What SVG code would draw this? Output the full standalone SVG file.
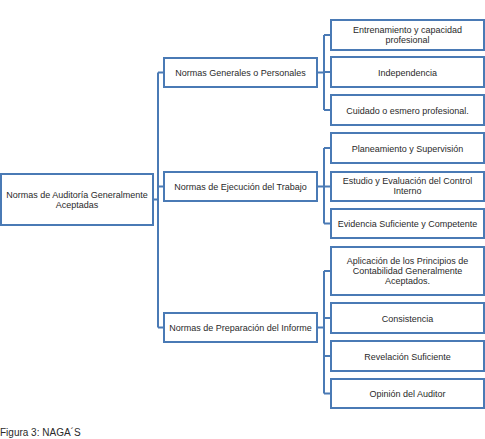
<svg xmlns="http://www.w3.org/2000/svg" width="485" height="439" viewBox="0 0 485 439">
<style>
.box{fill:#ffffff;stroke:#4a7ab5;stroke-width:2}
.ln{fill:none;stroke:#4a7ab5;stroke-width:2}
text{font-family:"Liberation Sans",Arial,sans-serif;font-size:9px;fill:#2a2a2a;text-anchor:middle}
.cap{text-anchor:start;font-size:10px}
</style>
<rect width="485" height="439" fill="#ffffff"/>
<g id="connectors">
<path class="ln" d="M153,199.5H158M158,72.5V327.5M158,72.5H164M158,186.5H164M158,327.5H164"/>
<path class="ln" d="M317,72.5H324M324,35V110M324,35H331M324,72H331M324,110H331"/>
<path class="ln" d="M317,186.5H324M324,148V223.5M324,148H331M324,186.5H331M324,223.5H331"/>
<path class="ln" d="M317,327.5H324M324,271V393.5M324,271H331M324,318H331M324,356H331M324,393.5H331"/>
</g>
<g id="root"><rect class="box" x="1" y="174" width="152" height="51"/><text x="77" y="198">Normas de Auditoría Generalmente</text><text x="77" y="208">Aceptadas</text></g>
<g id="generales"><rect class="box" x="164" y="58" width="153" height="29"/><text x="240.5" y="75.5">Normas Generales o Personales</text></g>
<g id="ejecucion"><rect class="box" x="164" y="172" width="153" height="29"/><text x="240.5" y="189.5">Normas de Ejecución del Trabajo</text></g>
<g id="preparacion"><rect class="box" x="164" y="313" width="153" height="29"/><text x="240.5" y="330.5">Normas de Preparación del Informe</text></g>
<g id="entrenamiento"><rect class="box" x="331" y="20" width="153" height="30"/><text x="407.5" y="33">Entrenamiento y capacidad</text><text x="407.5" y="43">profesional</text></g>
<g id="independencia"><rect class="box" x="331" y="57" width="153" height="30"/><text x="407.5" y="75.5">Independencia</text></g>
<g id="cuidado"><rect class="box" x="331" y="95" width="153" height="30"/><text x="407.5" y="113.5">Cuidado o esmero profesional.</text></g>
<g id="planeamiento"><rect class="box" x="331" y="133" width="153" height="30"/><text x="407.5" y="151.5">Planeamiento y Supervisión</text></g>
<g id="estudio"><rect class="box" x="331" y="172" width="153" height="29"/><text x="407.5" y="184">Estudio y Evaluación del Control</text><text x="407.5" y="194">Interno</text></g>
<g id="evidencia"><rect class="box" x="331" y="209" width="153" height="29"/><text x="407.5" y="226.5">Evidencia Suficiente y Competente</text></g>
<g id="aplicacion"><rect class="box" x="331" y="247" width="153" height="48"/><text x="407.5" y="264">Aplicación de los Principios de</text><text x="407.5" y="274">Contabilidad Generalmente</text><text x="407.5" y="284">Aceptados.</text></g>
<g id="consistencia"><rect class="box" x="331" y="303" width="153" height="30"/><text x="407.5" y="321.5">Consistencia</text></g>
<g id="revelacion"><rect class="box" x="331" y="341" width="153" height="30"/><text x="407.5" y="359.5">Revelación Suficiente</text></g>
<g id="opinion"><rect class="box" x="331" y="379" width="153" height="29"/><text x="407.5" y="397">Opinión del Auditor</text></g>
<text class="cap" x="0" y="436">Figura 3: NAGA´S</text>
</svg>
